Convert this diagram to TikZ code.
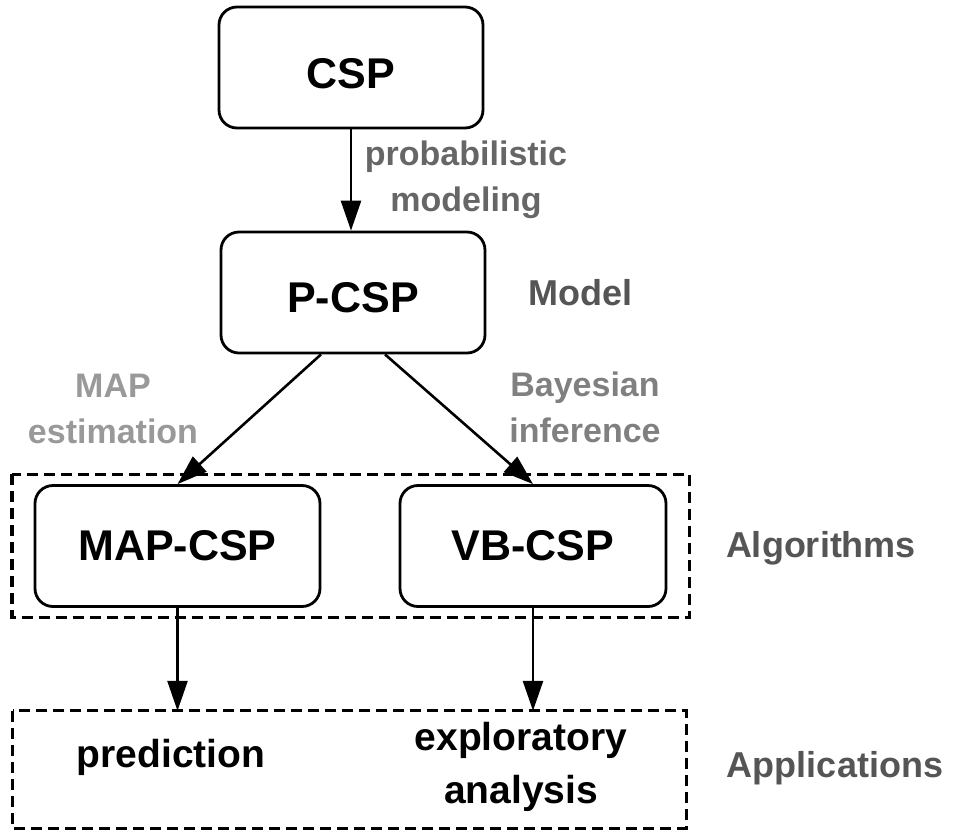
\documentclass[tikz,border=0pt]{standalone}
\usepackage{fontspec}
\setmainfont{Liberation Sans}
\usetikzlibrary{arrows.meta,fit}

\definecolor{sidegray}{HTML}{555555}
\definecolor{stepgray}{HTML}{666666}
\definecolor{mapgray}{HTML}{999999}
\definecolor{bayesgray}{HTML}{808080}

\begin{document}
\begin{tikzpicture}[x=1pt,y=-1pt,
  stage/.style={draw, line width=2.8pt, rounded corners=18pt, minimum height=121pt,
    font=\bfseries\fontsize{43}{50}\selectfont},
  groupbox/.style={line width=3.2pt, dash pattern=on 11pt off 6pt},
  edgetext/.style={align=center, font=\bfseries\fontsize{34}{46}\selectfont},
  side/.style={anchor=base, text=sidegray, font=\bfseries\fontsize{36}{43}\selectfont},
  app/.style={align=center, font=\bfseries\fontsize{39}{53}\selectfont},
  arr/.style={-{Triangle[length=30pt,width=20pt]}, line width=2.6pt}]
  \useasboundingbox (0,0) rectangle (956,831);

  \node [stage, minimum width=264pt, text height=42pt] (csp) at (351,67.5) {CSP};
  \node [stage, minimum width=264pt, text height=40pt] (pcsp) at (353,292.5) {P-CSP};
  \node [stage, minimum width=285pt] (mapcsp) at (177.5,546) {MAP-CSP};
  \node [stage, minimum width=266pt] (vbcsp) at (533,546) {VB-CSP};
  \node [fit=(mapcsp)(vbcsp), inner xsep=21.5pt, inner ysep=9.5pt] (algs) {};
  \node [minimum width=673pt, minimum height=117pt] (apps) at (349.5,769.5) {};
  \draw [groupbox] (algs.north west) rectangle (algs.south east);
  \draw [groupbox] (apps.north west) rectangle (apps.south east);

  \node [app, anchor=base] (pred) at (171,767) {prediction};
  \node [app] (explo) at (521,766.5) {exploratory\\analysis};

  \node [edgetext, text=stepgray] (probmod) at (466,180) {probabilistic\\modeling};
  \node [edgetext, text=mapgray] (mapest) at (113,409) {MAP\\estimation};
  \node [edgetext, text=bayesgray] (bayes) at (585,407.5) {Bayesian\\inference};

  \node [side] (model) at (580.5,305) {Model};
  \node [side] (algtext) at (821,557) {Algorithms};
  \node [side] (apptext) at (835,777) {Applications};

  \draw [arr] (csp.south) -- (csp.south |- pcsp.north);
  \draw [arr] ([xshift=-32pt]pcsp.south) -- (mapcsp.north);
  \draw [arr] ([xshift=32pt]pcsp.south) -- (vbcsp.north);
  \draw [arr] (mapcsp.south) -- (mapcsp.south |- apps.north);
  \draw [arr] (vbcsp.south) -- (vbcsp.south |- apps.north);
\end{tikzpicture}
\end{document}
